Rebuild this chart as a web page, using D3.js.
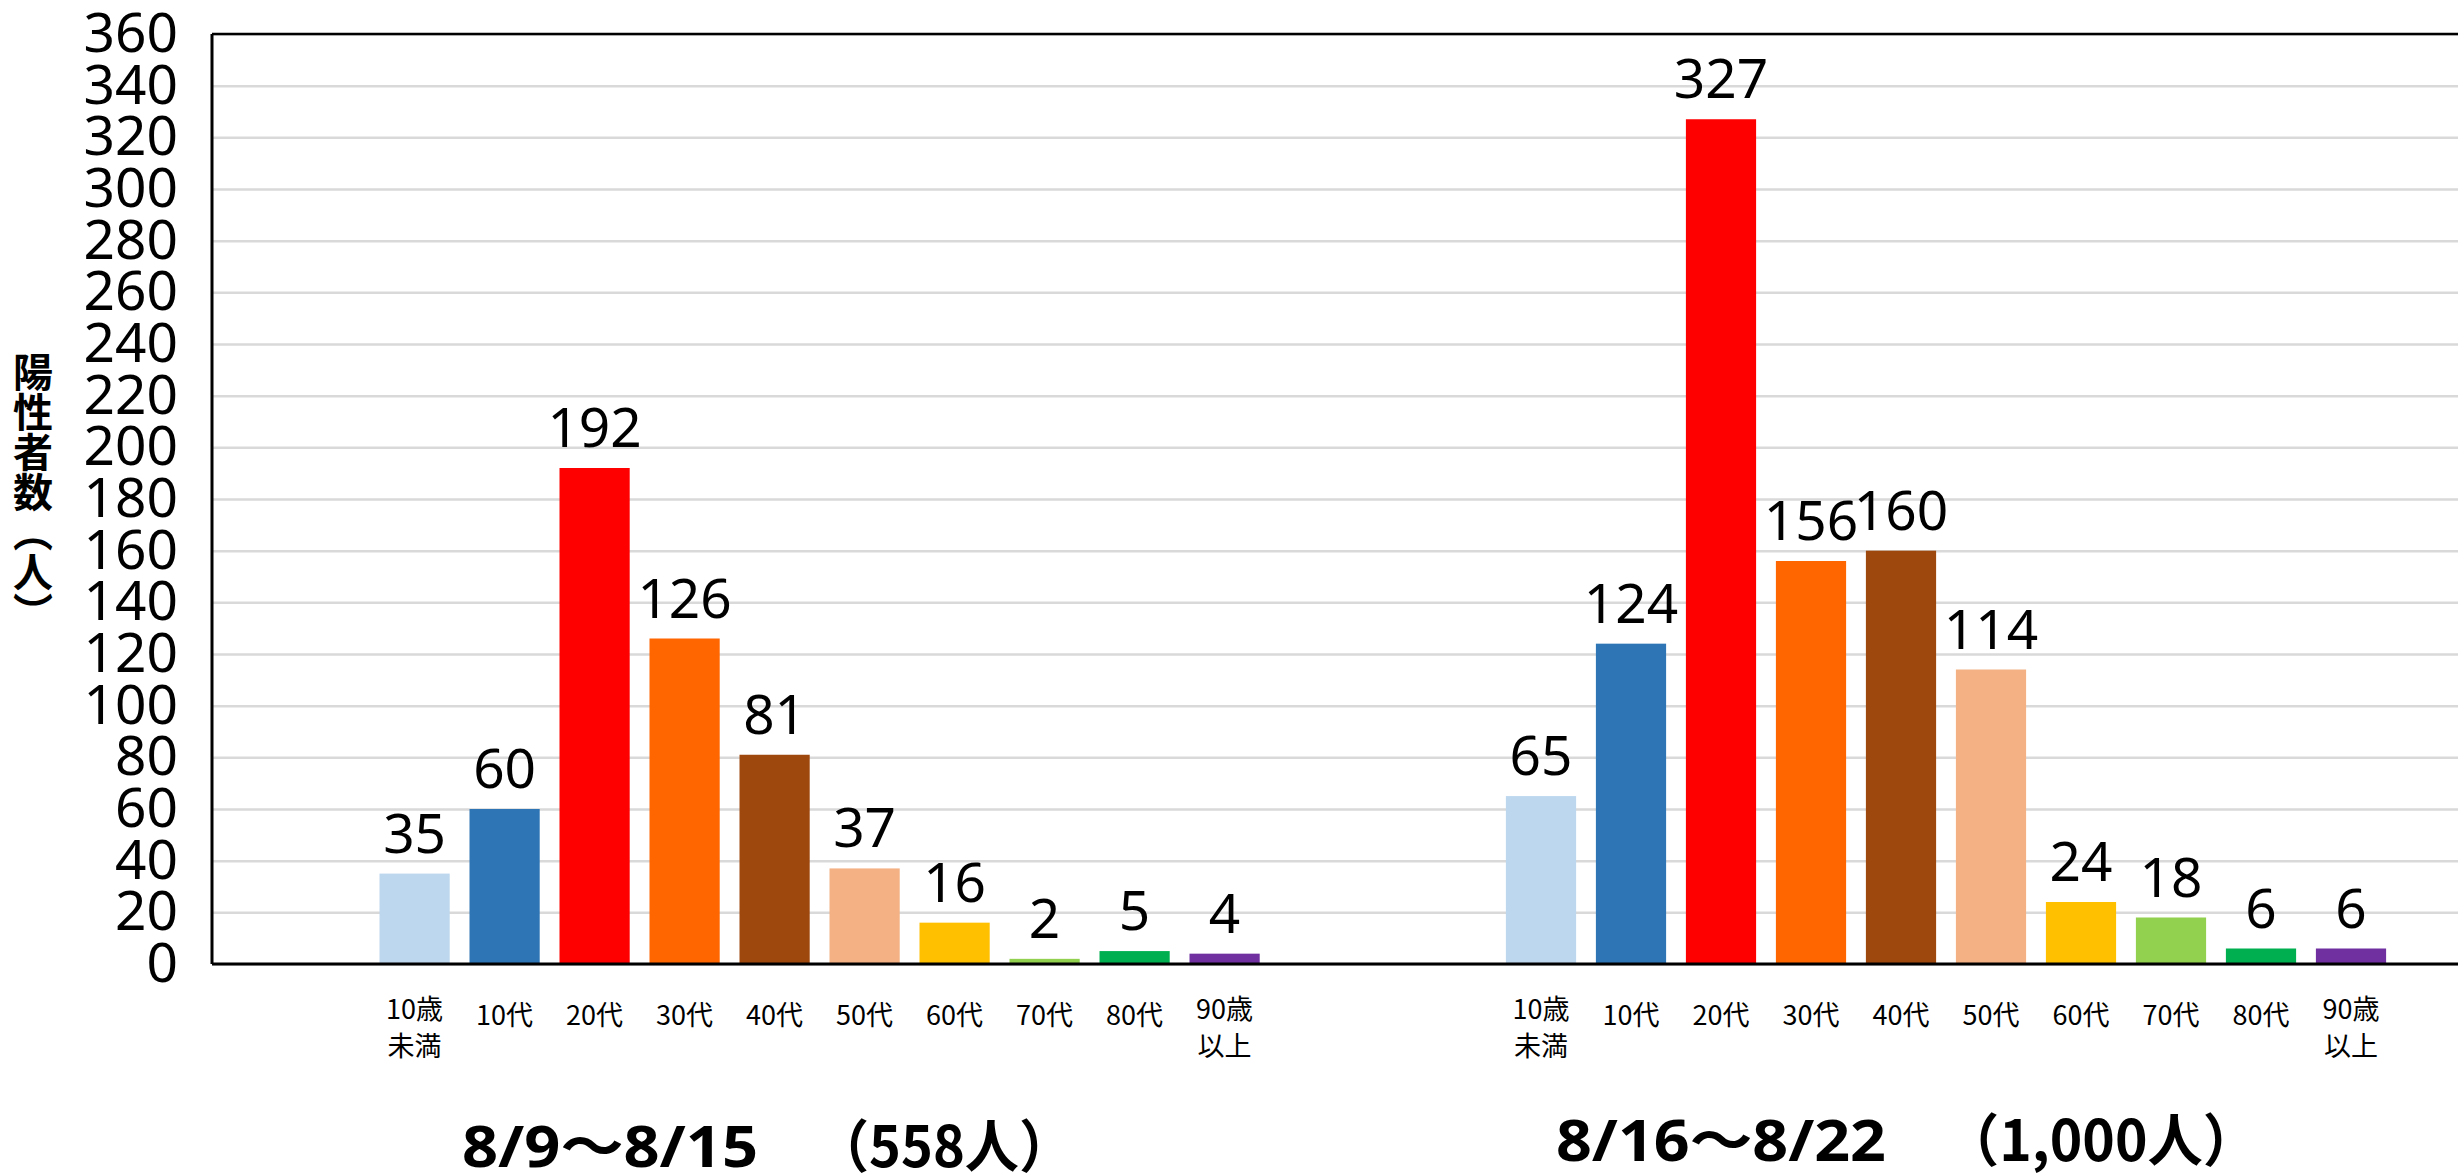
<!DOCTYPE html>
<html>
<head>
<meta charset="utf-8">
<script src="https://cdn.jsdelivr.net/npm/d3@7"></script>
<style>
  html, body { margin: 0; padding: 0; background: #fff; }
  svg { display: block; }
</style>
</head>
<body>
<div id="chart"></div>
<script>
// data
const ageGroups = ["10歳未満", "10代", "20代", "30代", "40代", "50代", "60代", "70代", "80代", "90歳以上"];
const ageLabels = [["10歳", "未満"], ["10代"], ["20代"], ["30代"], ["40代"], ["50代"], ["60代"], ["70代"], ["80代"], ["90歳", "以上"]];
const ageColors = ["#BDD7EE", "#2E75B6", "#FF0000", "#FF6600", "#9E480E", "#F4B183", "#FFC000", "#92D050", "#00B050", "#7030A0"];
const periodDates = ["8/9～8/15", "8/16～8/22"];
const periodTotals = ["（558人）", "（1,000人）"];
const week1 = [35, 60, 192, 126, 81, 37, 16, 2, 5, 4];
const week2 = [65, 124, 327, 156, 160, 114, 24, 18, 6, 6];
const yTicks = d3.range(0, 361, 20);
const yTitle = "陽性者数（人）";

const width = 2458, height = 1175;
const plotLeft = 212, plotTop = 34, plotBottom = 964, plotRight = 2458;

const svg = d3.select("#chart").append("svg")
  .attr("width", width)
  .attr("height", height);

const y = d3.scaleLinear().domain([0, 360]).range([plotBottom, plotTop]);

// gridlines + tick labels
const yAxis = svg.append("g")
  .attr("transform", `translate(${plotLeft},0)`)
  .call(d3.axisLeft(y).tickValues(yTicks).tickSize(-(plotRight - plotLeft)).tickPadding(34));
yAxis.select(".domain").remove();
yAxis.selectAll(".tick line")
  .attr("stroke", "#d9d9d9")
  .attr("stroke-width", 2.5);
yAxis.selectAll(".tick text")
  .attr("fill", "#000")
  .style("font-family", "'Noto Sans', 'Open Sans', sans-serif")
  .style("font-size", "55px");

// frame: left, top
svg.append("line").attr("x1", plotLeft).attr("x2", plotLeft).attr("y1", plotTop).attr("y2", plotBottom)
  .attr("stroke", "#000").attr("stroke-width", 3);
svg.append("line").attr("x1", plotLeft).attr("x2", plotRight).attr("y1", plotTop).attr("y2", plotTop)
  .attr("stroke", "#000").attr("stroke-width", 2.5);

// y title (vertical writing)
svg.append("text")
  .attr("x", 33)
  .attr("y", 492)
  .attr("text-anchor", "middle")
  .style("writing-mode", "vertical-rl")
  .style("font-family", "'Noto Sans CJK JP', sans-serif")
  .style("font-weight", 700)
  .style("font-size", "40px")
  .text(yTitle);

const groups = [
  {values: week1, date: periodDates[0], total: periodTotals[0], range: [369.6, 1269.6],
   titleY: 1167, dateX: 462, dateW: 296, totalX: 815, totalW: 258},
  {values: week2, date: periodDates[1], total: periodTotals[1], range: [1496, 2396],
   titleY: 1161, dateX: 1556, dateW: 330, totalX: 1944, totalW: 314}
];

groups.forEach(grp => {
  const x = d3.scaleBand()
    .domain(ageGroups)
    .range(grp.range)
    .paddingInner(0.22)
    .paddingOuter(0.11);

  const data = ageGroups.map((a, i) => ({age: a, value: grp.values[i], color: ageColors[i], label: ageLabels[i]}));
  const g = svg.append("g");

  g.selectAll("rect")
    .data(data)
    .join("rect")
    .attr("x", d => x(d.age))
    .attr("y", d => y(d.value))
    .attr("width", x.bandwidth())
    .attr("height", d => y(0) - y(d.value))
    .attr("fill", d => d.color);

  g.selectAll("text.val")
    .data(data)
    .join("text")
    .attr("class", "val")
    .attr("x", d => x(d.age) + x.bandwidth() / 2)
    .attr("y", d => y(d.value) - 21)
    .attr("text-anchor", "middle")
    .style("font-family", "'Noto Sans', 'Open Sans', sans-serif")
    .style("font-size", "55px")
    .text(d => d.value);

  const lbl = g.selectAll("text.cat")
    .data(data)
    .join("text")
    .attr("class", "cat")
    .attr("text-anchor", "middle")
    .style("font-family", "'Noto Sans CJK JP', sans-serif")
    .style("font-size", "27px");
  lbl.selectAll("tspan")
    .data(d => d.label.map(t => ({t, n: d.label.length, cx: x(d.age) + x.bandwidth() / 2})))
    .join("tspan")
    .attr("x", d => d.cx)
    .attr("y", (d, i) => d.n > 1 ? 1019 + i * 37 : 1025)
    .text(d => d.t);

  // period title
  const t = svg.append("text")
    .attr("y", grp.titleY)
    .style("font-family", "'Noto Sans', 'Noto Sans CJK JP', sans-serif")
    .style("font-weight", 700)
    .style("font-size", "57px");
  t.append("tspan")
    .attr("x", grp.dateX)
    .attr("textLength", grp.dateW)
    .attr("lengthAdjust", "spacingAndGlyphs")
    .text(grp.date);
  t.append("tspan")
    .attr("x", grp.totalX)
    .attr("textLength", grp.totalW)
    .attr("lengthAdjust", "spacingAndGlyphs")
    .style("font-family", "'Noto Sans CJK JP', sans-serif")
    .text(grp.total);
});

// baseline on top
svg.append("line").attr("x1", plotLeft).attr("x2", plotRight).attr("y1", plotBottom).attr("y2", plotBottom)
  .attr("stroke", "#000").attr("stroke-width", 3);
</script>
</body>
</html>
